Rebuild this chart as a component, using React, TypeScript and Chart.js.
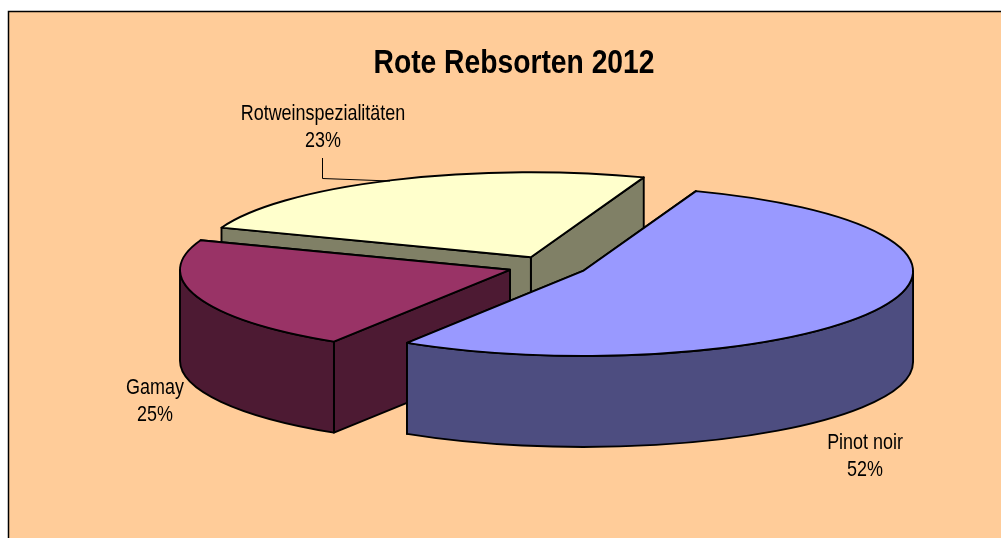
import React, { useEffect, useRef } from "react";
import { Chart, ArcElement, PieController, Title } from "chart.js";

const TITLE = "Rote Rebsorten 2012";
const categories = ["Pinot noir", "Gamay", "Rotweinspezialitäten"];
// Printed percentages and the slice sizes as drawn in the picture (they differ there).
const printedShares = ["52%", "25%", "23%"];
const sliceSizes = [53.4, 21.7, 24.9];
const sliceColors = ["#9999FF", "#993366", "#FFFFCC"];
const explodePercent = 12;

const PIE_DX = 33.5;
const RX = 330;
const RY = 85;
const DEPTH = 91;
const FAMILY = '"Liberation Sans", Arial, sans-serif';
const FONT = `22px ${FAMILY}`;
const TEXT_SQUEEZE = 0.815;

const labelSpots = [
  { x: 865, y: 443 },
  { x: 155, y: 388 },
  { x: 323, y: 114 },
];

function halfTone(hex: string) {
  const n = parseInt(hex.slice(1), 16);
  const f = (v: number) => Math.round(v / 2);
  return `rgb(${f((n >> 16) & 255)},${f((n >> 8) & 255)},${f(n & 255)})`;
}

class Slice3D extends ArcElement {
  static id = "slice3d";
  draw(ctx: CanvasRenderingContext2D) {
    const { x, y, startAngle: a0, endAngle: a1 } = this as any;
    const o = (this as any).options;
    const mid = (a0 + a1) / 2;
    const e = o.offset / 100;
    const cx = x + PIE_DX + Math.cos(mid) * e * RX;
    const cy = y + Math.sin(mid) * e * RY;
    const px = (a: number) => cx + Math.cos(a) * RX;
    const py = (a: number) => cy + Math.sin(a) * RY;
    const side = halfTone(o.backgroundColor);

    ctx.save();
    ctx.lineWidth = o.borderWidth;
    ctx.strokeStyle = o.borderColor;
    ctx.lineJoin = "round";

    // far cut face first, so the near one covers it
    const cuts = [a0, a1].sort((p, q) => py(p) - py(q));
    for (const a of cuts) {
      ctx.beginPath();
      ctx.moveTo(cx, cy);
      ctx.lineTo(px(a), py(a));
      ctx.lineTo(px(a), py(a) + DEPTH);
      ctx.lineTo(cx, cy + DEPTH);
      ctx.closePath();
      ctx.fillStyle = side;
      ctx.fill();
      ctx.stroke();
    }

    const w0 = Math.max(a0, 0);
    const w1 = Math.min(a1, Math.PI);
    if (w1 > w0) {
      ctx.beginPath();
      ctx.ellipse(cx, cy, RX, RY, 0, w0, w1);
      ctx.ellipse(cx, cy + DEPTH, RX, RY, 0, w1, w0, true);
      ctx.closePath();
      ctx.fillStyle = side;
      ctx.fill();
      ctx.stroke();
    }

    ctx.beginPath();
    ctx.moveTo(cx, cy);
    ctx.ellipse(cx, cy, RX, RY, 0, a0, a1);
    ctx.closePath();
    ctx.fillStyle = o.backgroundColor;
    ctx.fill();
    ctx.stroke();
    ctx.restore();
  }
}

class Pie3DController extends PieController {
  static id = "pie3d";
  static defaults = { dataElementType: "slice3d" };
  draw() {
    const ctx = (this as any).chart.ctx;
    const arcs = (this as any).getMeta().data;
    for (let i = arcs.length - 1; i >= 0; i--) arcs[i].draw(ctx);
  }
}

Chart.register(ArcElement, PieController, Slice3D, Pie3DController, Title);

const framePlugin = {
  id: "frame",
  beforeDraw(chart: any) {
    const { ctx } = chart;
    ctx.save();
    ctx.fillStyle = "#FFFFFF";
    ctx.fillRect(0, 0, 1001, 538);
    ctx.fillStyle = "#FFCC99";
    ctx.fillRect(8, 11, 993, 527);
    ctx.strokeStyle = "#000000";
    ctx.lineWidth = 1.5;
    ctx.beginPath();
    ctx.moveTo(8.5, 538);
    ctx.lineTo(8.5, 11.5);
    ctx.lineTo(1001, 11.5);
    ctx.stroke();
    ctx.restore();
  },
};

const labelPlugin = {
  id: "sliceLabels",
  afterDraw(chart: any) {
    const { ctx } = chart;
    ctx.save();
    ctx.strokeStyle = "#000000";
    ctx.lineWidth = 1;
    ctx.beginPath();
    ctx.moveTo(322.5, 158);
    ctx.lineTo(322.5, 178.5);
    ctx.lineTo(390, 181);
    ctx.stroke();
    ctx.fillStyle = "#000000";
    ctx.font = FONT;
    ctx.textAlign = "center";
    ctx.textBaseline = "middle";
    const squeezed = (text: string, x: number, y: number) =>
      ctx.fillText(text, x, y, ctx.measureText(text).width * TEXT_SQUEEZE);
    categories.forEach((name, i) => {
      const s = labelSpots[i];
      squeezed(name, s.x, s.y);
      squeezed(printedShares[i], s.x, s.y + 26.5);
    });
    ctx.restore();
  },
};

export default function App() {
  const ref = useRef<HTMLCanvasElement>(null);
  useEffect(() => {
    const chart = new Chart(ref.current!, {
      type: "pie3d" as any,
      data: {
        labels: categories,
        datasets: [
          {
            data: sliceSizes,
            backgroundColor: sliceColors,
            borderColor: "#000000",
            borderWidth: 1.9,
            offset: explodePercent,
          },
        ],
      },
      options: {
        responsive: false,
        animation: false,
        rotation: 20,
        // the side padding narrows the title box, which squeezes the title to its width
        layout: { padding: { left: 373.5, right: 346.5, top: 43, bottom: 88.8 } },
        plugins: {
          legend: { display: false },
          tooltip: { enabled: false },
          title: {
            display: true,
            text: TITLE,
            color: "#000000",
            padding: 0,
            font: { family: FAMILY, size: 34, weight: "bold", lineHeight: 1.2 },
          },
        },
      } as any,
      plugins: [framePlugin, labelPlugin],
    });
    return () => chart.destroy();
  }, []);
  return (
    <canvas
      ref={ref}
      width={1001}
      height={538}
      style={{ position: "fixed", left: 0, top: 0, display: "block" }}
    />
  );
}
